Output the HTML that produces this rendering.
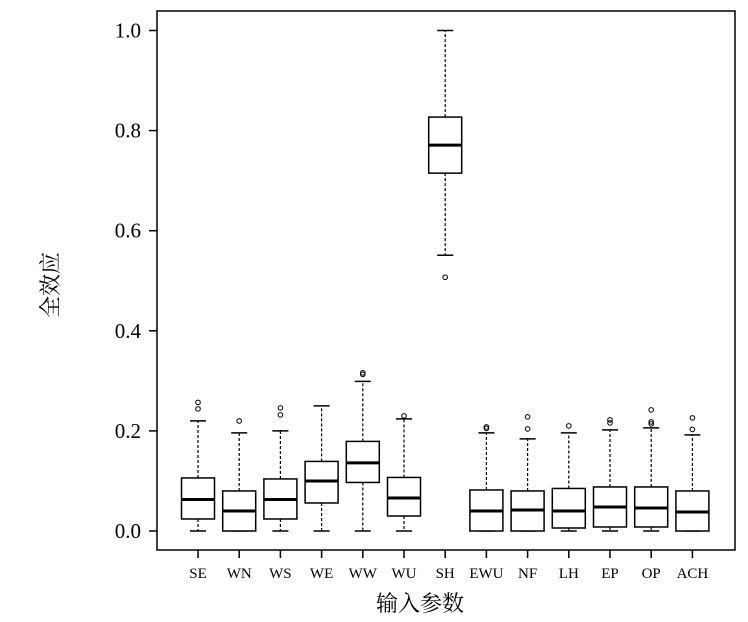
<!DOCTYPE html>
<html><head><meta charset="utf-8"><style>
html,body{margin:0;padding:0;background:#fff;}
svg{display:block;font-family:"Liberation Serif","Noto Serif CJK SC",serif;}
</style></head><body>
<svg id="chart" width="748" height="622" viewBox="0 0 748 622" xmlns="http://www.w3.org/2000/svg">
<rect x="157" y="11" width="578" height="539" fill="none" stroke="#000" stroke-width="1.5"/>
<g id="yaxis"></g>
<g id="xaxis"></g>
<g id="boxes"></g>
<text transform="translate(58,285) rotate(-90)" text-anchor="middle" font-size="22" fill="#000">全效应</text>
<text x="420" y="611" text-anchor="middle" font-size="22" fill="#000">输入参数</text>
</svg>
<script>
const categories=["SE","WN","WS","WE","WW","WU","SH","EWU","NF","LH","EP","OP","ACH"];
const whiskerLow=[0,0,0,0,0,0,0.551,0,0,0,0,0,0];
const q1=[0.024,0,0.024,0.056,0.097,0.030,0.715,0,0,0.006,0.008,0.008,0];
const medians=[0.063,0.040,0.063,0.100,0.136,0.066,0.771,0.040,0.042,0.040,0.048,0.046,0.038];
const q3=[0.106,0.080,0.104,0.139,0.179,0.107,0.827,0.082,0.080,0.085,0.088,0.088,0.080];
const whiskerHigh=[0.220,0.196,0.200,0.250,0.299,0.224,1.0,0.196,0.184,0.196,0.202,0.206,0.192];
const outliers=[[0.257,0.244],[0.220],[0.246,0.232],[],[0.316,0.313],[0.230],[0.507],[0.208,0.205],[0.228,0.204],[0.210],[0.222,0.216],[0.242,0.218,0.214],[0.226,0.203]];
const yTicks=[0,0.2,0.4,0.6,0.8,1.0];
const yTickLabels=["0.0","0.2","0.4","0.6","0.8","1.0"];
const NS="http://www.w3.org/2000/svg";
function y(v){return 531-v*500.5;}
function x(i){return 198+i*41.2;}
function mk(tag,attrs,parent){const e=document.createElementNS(NS,tag);for(const k in attrs)e.setAttribute(k,attrs[k]);parent.appendChild(e);return e;}
const ya=document.getElementById('yaxis'),xa=document.getElementById('xaxis'),bx=document.getElementById('boxes');
yTicks.forEach((t,i)=>{
  const l=mk('line',{x1:149,x2:157,y1:y(t),y2:y(t),stroke:'#000','stroke-width':1.5},ya);
  
  
  const tx=mk('text',{x:141,y:y(t)+7,'text-anchor':'end','font-size':21},ya);
  tx.textContent=yTickLabels[i];
  
  
});
categories.forEach((c,i)=>{
  const cx=x(i),hw=16.5;
  const l=mk('line',{x1:cx,x2:cx,y1:550,y2:558,stroke:'#000','stroke-width':1.5},xa);
  
  
  const tx=mk('text',{x:cx,y:578,'text-anchor':'middle','font-size':15},xa);
  tx.textContent=c;
  
  
  const g=mk('g',{},bx);
  
  
  mk('line',{x1:cx,x2:cx,y1:y(q3[i]),y2:y(whiskerHigh[i]),stroke:'#000','stroke-width':1.2,'stroke-dasharray':'3,2'},g);
  mk('line',{x1:cx,x2:cx,y1:y(q1[i]),y2:y(whiskerLow[i]),stroke:'#000','stroke-width':1.2,'stroke-dasharray':'3,2'},g);
  mk('line',{x1:cx-8,x2:cx+8,y1:y(whiskerHigh[i]),y2:y(whiskerHigh[i]),stroke:'#000','stroke-width':1.5},g);
  mk('line',{x1:cx-8,x2:cx+8,y1:y(whiskerLow[i]),y2:y(whiskerLow[i]),stroke:'#000','stroke-width':1.5},g);
  mk('rect',{x:cx-hw,y:y(q3[i]),width:2*hw,height:Math.max(0,y(q1[i])-y(q3[i])),fill:'#fff',stroke:'#000','stroke-width':1.5},g);
  mk('line',{x1:cx-hw,x2:cx+hw,y1:y(medians[i]),y2:y(medians[i]),stroke:'#000','stroke-width':3},g);
  outliers[i].forEach(o=>{mk('circle',{cx:cx,cy:y(o),r:2.3,fill:'none',stroke:'#000','stroke-width':1},g);});
});
</script>
</body></html>
